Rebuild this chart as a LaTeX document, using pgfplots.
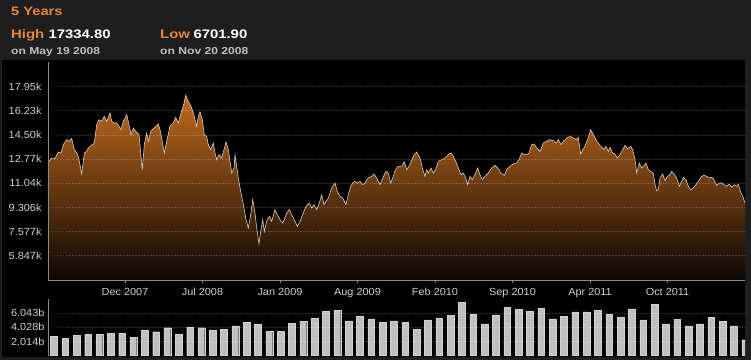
\documentclass[border=0pt]{standalone}
\usepackage{graphicx}
\usepackage{pgfplots}
\pgfplotsset{compat=1.18}
\usepackage{pgfplotstable}
\usepackage{fontspec}
\setmainfont{Liberation Sans}
\newfontfamily\tck[FakeStretch=1.06]{Liberation Sans}
\newcommand{\hdrtxt}[3]{\scalebox{1.2}[1]{\bfseries\fontsize{#1}{#1}\selectfont\color{#2}#3}}
\definecolor{bggray}{HTML}{1E1E1E}
\definecolor{hdrorange}{HTML}{E8873A}
\definecolor{subgray}{HTML}{BEBEBE}
\definecolor{lblc}{HTML}{D0D0D0}
\definecolor{axc}{HTML}{8A8A8A}
\definecolor{filltop}{HTML}{C06A1E}
\definecolor{fillbot}{HTML}{0C0703}
\definecolor{linec}{HTML}{DACCBE}
\definecolor{barc}{HTML}{BFBFBF}

\pgfplotstableread{
x v
0 12483
3.7 12841
7 12794
10.3 13271
13 13199
15.3 13796
18.7 14154
21 14035
23.7 14226
26.3 13438
28.7 13199
30.3 12961
33.7 11696
36.3 13199
38.7 13319
40.3 13557
43.7 13748
46.3 13915
48.7 15228
51 15586
53.7 15467
56.3 15825
58.7 15467
62 16064
63.7 15467
66.3 15348
68.7 15348
71 15109
73 14870
75.3 15467
78.7 15944
81 15228
83 14512
85.3 14990
87.7 14751
91 14512
94.3 12006
96.3 13796
98.7 14632
100.3 14035
103 14799
107 15037
110.3 15276
112 14870
113.7 14274
116.3 13199
118.7 14035
122 15109
125.3 15348
127.7 15753
130.3 15348
133 16064
135.3 16541
137.7 17335
140.3 16899
143.7 16422
146.3 15825
148.7 15109
150.3 15825
152 16135
154.3 15586
156.3 14512
158.7 14393
160.3 13796
162.7 13438
165.3 13915
167 13199
168.7 12722
171 13080
173.7 12841
176 13438
178 13987
180.3 13438
182 12603
183.7 11767
186 12125
187 13080
188.7 12245
190.3 11409
192.7 10454
194.7 9738
196 9261
198 8425
200.3 7829
202.7 8783
204.7 9857
207 8903
208.7 7829
211 6702
212.7 7590
214.7 8425
216.3 7590
218.7 8306
221.3 8664
223.7 8306
227 9142
229.3 8783
232 8425
234.7 8187
237 8545
238.7 8903
241.3 9142
243.7 8783
247 8306
249.3 7948
252 8306
255.3 8903
258 9380
261.3 9619
263.7 9261
266 9500
268.7 9142
271.3 9619
273.7 10216
276 9500
278 9738
280.3 9977
283.7 10693
287 11051
289.3 10454
292 10096
294.7 9977
298 9500
300.3 10216
302.7 10812
304.7 11051
307 11170
309.3 11051
312 11170
314.7 10932
317 11051
320.3 11409
323.7 11529
326 11695
328.7 11409
332 10932
334.7 11409
338 11887
340.3 11767
342.7 11051
345.3 11529
347 11900
348.7 12125
350.3 12245
353.7 12245
356.3 12555
358.7 12006
362 12364
365.3 12961
368.7 13271
372 12841
374.3 12125
377 11529
378.7 12006
380.3 11767
383 12125
385.3 11767
387.7 12006
390.3 12603
393.7 12722
397 12841
400.3 13080
403 13199
405.3 12961
407.7 12603
410.3 12125
413 11648
415.3 11767
417.7 11409
419.7 10932
422 11529
424.3 11290
427 11648
429.7 12125
432 11648
434.3 11290
437 11529
440.3 11767
443.7 12125
447 12316
449.7 12125
453 11767
456.3 11600
458.7 12006
462 12245
465.3 12412
468.7 12483
471 12722
473.7 13199
476.3 13080
478.7 13080
481 13199
483.7 13796
486.3 13844
488.7 13557
492 13319
495.3 13915
498.7 14035
502 14154
505.3 14082
508 13915
510.3 14154
513 13796
515.3 14035
518.7 14274
522 14393
525.3 14274
528.7 14154
530.3 14321
532.7 13128
534.7 13438
537 13677
540.3 14321
542.7 14870
545.3 14512
548 14154
551.3 13796
553.7 13605
556 13438
558 13677
560.3 13319
562 13605
564.7 13199
567 13128
569.3 12841
572 13080
574.7 13438
577 13748
579.3 13510
582.7 13677
584.7 13438
587 12722
588.7 11767
591.3 12483
593.7 12125
596 12316
598 12483
600.3 12006
602.7 11887
605.3 11767
607 10932
608.7 10502
610.3 10574
612 11409
614.7 11696
617 11218
619.3 11529
621.3 11600
623.7 11887
626 11696
628.7 11409
631.3 10812
633.7 11170
635.3 11457
638 11290
640.3 10812
642.7 10574
645.3 10693
648 10932
650.3 11170
653.7 11529
656 11600
658.7 11529
661.3 11409
663.7 11457
666 11290
668.7 10884
671.3 11051
673.7 11051
676 10932
678.7 10812
681.3 10980
683.7 10741
686 10932
688.7 10812
690.3 10980
692.7 10407
694.7 10096
697 9619
}\price

\pgfplotstableread{
x v
6.0 2.77
17.3 2.49
28.7 2.91
40.0 3.01
51.3 3.01
62.7 3.20
74.0 3.15
85.3 2.63
96.6 3.67
108.0 3.39
119.3 3.96
130.6 3.01
142.0 4.05
153.3 3.96
164.6 3.62
175.9 3.77
187.3 4.24
198.6 4.71
209.9 4.48
221.3 3.48
232.6 3.48
243.9 4.57
255.3 4.90
266.6 5.33
277.9 6.28
289.3 6.42
300.6 4.95
311.9 5.61
323.2 5.23
334.6 4.76
345.9 4.95
357.2 4.76
368.6 3.72
379.9 5.09
391.2 5.38
402.6 5.71
413.9 7.60
425.2 5.90
436.5 4.52
447.9 5.80
459.2 6.89
470.5 6.61
481.9 6.32
493.2 6.75
504.5 5.23
515.9 5.61
527.2 6.23
538.5 6.23
549.8 6.42
561.2 5.85
572.5 5.47
583.8 6.66
595.2 5.09
606.5 7.32
617.8 4.52
629.2 5.14
640.5 4.24
651.8 4.52
663.1 5.47
674.5 4.86
685.8 4.24
697.1 2.25
}\volume

\begin{document}
\begin{tikzpicture}
\fill[bggray] (0,0) rectangle (751pt,360pt);
\fill[black] (2pt,3pt) rectangle (745pt,300pt);

% header
\node[anchor=base west, inner sep=0pt] at (11pt,344.3pt) {\hdrtxt{12.2}{hdrorange}{5 Years}};
\node[anchor=base west, inner sep=0pt] at (11pt,321.3pt) {\hdrtxt{12.4}{hdrorange}{High}};
\node[anchor=base west, inner sep=0pt] at (48.3pt,321.3pt) {\hdrtxt{12.4}{white}{17334.80}};
\node[anchor=base west, inner sep=0pt] at (11pt,305.3pt) {\hdrtxt{10.1}{subgray}{on May 19 2008}};
\node[anchor=base west, inner sep=0pt] at (160pt,321.3pt) {\hdrtxt{12.4}{hdrorange}{Low}};
\node[anchor=base west, inner sep=0pt] at (193.3pt,321.3pt) {\hdrtxt{12.4}{white}{6701.90}};
\node[anchor=base west, inner sep=0pt] at (160pt,305.3pt) {\hdrtxt{10.1}{subgray}{on Nov 20 2008}};

\begin{axis}[
  at={(48pt,80pt)}, anchor=south west,
  scale only axis, width=697pt, height=218pt,
  xmin=0, xmax=697, ymin=4107, ymax=19716,
  scaled y ticks=false, scaled x ticks=false,
  axis lines*=left,
  axis line style={-, draw=axc, line width=0.8pt},
  axis on top,
  xtick={77,154.5,232,309.5,387,464.5,542,619.5},
  xticklabels={Dec 2007, Jul 2008, Jan 2009, Aug 2009, Feb 2010, Sep 2010, Apr 2011, Oct 2011},
  ytick={5847,7577,9306,11040,12770,14500,16230,17950},
  yticklabels={5.847k,7.577k,9.306k,11.04k,12.77k,14.50k,16.23k,17.95k},
  ymajorgrids,
  grid style={dash pattern=on 1.5pt off 1.5pt, draw=white, draw opacity=0.18, line width=0.5pt},
  tick align=outside, major tick length=3pt,
  xtick style={draw=axc, line width=0.8pt},
  ytick style={draw=none},
  tick label style={font=\tck\fontsize{10.3}{12}\selectfont, text=lblc},
  xticklabel style={text height=7.6pt, text depth=2.2pt, yshift=-1pt},
]
\addplot[draw=none, top color=filltop, bottom color=fillbot] table[x=x,y=v] {\price} -- (axis cs:697,4107) -- (axis cs:0,4107) -- cycle;
\addplot[draw=linec, line width=0.6pt, no marks] table[x=x,y=v] {\price};
\end{axis}

\begin{axis}[
  at={(48pt,4.5pt)}, anchor=south west,
  scale only axis, width=697pt, height=56.5pt,
  xmin=0, xmax=697, ymin=0, ymax=8.057,
  scaled y ticks=false, scaled x ticks=false,
  axis lines*=left,
  x axis line style={draw=none},
  y axis line style={-, draw=axc, line width=0.8pt},
  axis on top,
  xtick=\empty,
  ytick={2.014,4.028,6.043},
  yticklabels={2.014b,4.028b,6.043b},
  ymajorgrids,
  grid style={dash pattern=on 1.5pt off 1.5pt, draw=white, draw opacity=0.18, line width=0.5pt},
  ytick style={draw=none},
  tick label style={font=\tck\fontsize{10.3}{12}\selectfont, text=lblc},
]
\addplot[ybar, bar width=6.7, fill=barc, draw=barc!70!white, line width=0.3pt] table[x=x,y=v] {\volume};
\end{axis}
\pgfresetboundingbox
\useasboundingbox (0,0) rectangle (751pt,360pt);
\end{tikzpicture}
\end{document}
